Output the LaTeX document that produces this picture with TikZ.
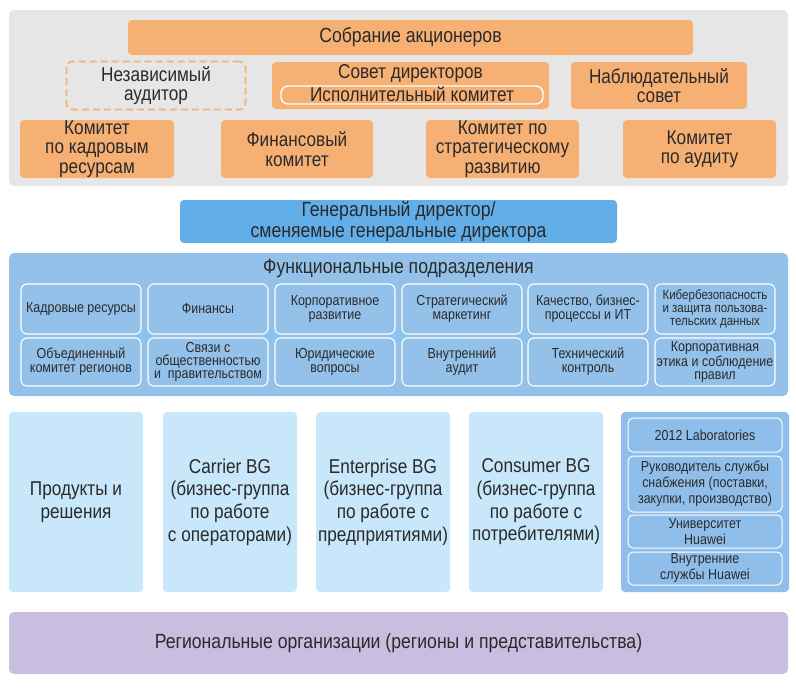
\documentclass[tikz,border=0pt]{standalone}
\usepackage{fontspec}
\setmainfont{Liberation Sans}[FakeStretch=0.86]
\definecolor{txt}{HTML}{2A2A2A}
\definecolor{greybg}{HTML}{E6E6E6}
\definecolor{orbox}{HTML}{F6B074}
\definecolor{gdblue}{HTML}{62AEE8}
\definecolor{funcblue}{HTML}{94C1EA}
\definecolor{lightblue}{HTML}{C8E7FA}
\definecolor{panelblue}{HTML}{90BEEA}
\definecolor{regbg}{HTML}{C7BEE0}
\tikzset{
  base/.style={inner sep=0pt, align=center, text=txt},
  panel/.style={base, fill=greybg, rounded corners=5pt},
  orangebox/.style={base, fill=orbox, rounded corners=4pt, font=\fontsize{20}{19.5}\selectfont},
  dashbox/.style={base, draw=orbox, dash pattern=on 7pt off 4pt, line width=1.8pt, rounded corners=6pt, font=\fontsize{20}{19.5}\selectfont},
  innerbox/.style={base, draw=white, line width=1.3pt, rounded corners=7pt},
  gdbox/.style={base, fill=gdblue, rounded corners=4pt, font=\fontsize{20.5}{20.5}\selectfont},
  funcpanel/.style={base, fill=funcblue, rounded corners=5pt},
  cellbox/.style={base, fill=funcblue, draw=white, line width=1.1pt, rounded corners=6pt, font=\fontsize{14.5}{14}\selectfont, minimum width=120pt},
  bgbox/.style={base, fill=lightblue, rounded corners=4pt, font=\fontsize{20}{22.7}\selectfont, minimum width=134pt, minimum height=180pt},
  rpanel/.style={base, fill=panelblue, rounded corners=4pt},
  rcell/.style={base, fill=panelblue, draw=white, line width=1pt, rounded corners=5pt, font=\fontsize{14.5}{16}\selectfont, minimum width=154pt},
  regbox/.style={base, fill=regbg, rounded corners=5pt, font=\fontsize{20.5}{22}\selectfont},
}
\begin{document}
\begin{tikzpicture}[x=1pt,y=-1pt]
\useasboundingbox (0,0) rectangle (796,689);
% governance panel
\node[panel, minimum width=779pt, minimum height=176pt] (gov) at (398.5,98) {};
\node[orangebox, minimum width=565pt, minimum height=35pt, font=\fontsize{20.5}{20}\selectfont] (sobr) at (410.5,37.5) {Собрание акционеров};
\node[dashbox, minimum width=179pt, minimum height=48pt] (aud) at (156,85.5) {Независимый\\аудитор};
\node[orangebox, minimum width=277pt, minimum height=47pt] (sovet) at (410.5,85.5) {};
\node[base, anchor=base, font=\fontsize{20}{20}\selectfont] (sovett) at (410.5,78) {Совет директоров};
\node[innerbox, minimum width=262pt, minimum height=18pt] (isp) at (412,95) {};
\node[base, anchor=base, font=\fontsize{20}{20}\selectfont] (ispt) at (412,101) {Исполнительный комитет};
\node[orangebox, minimum width=176pt, minimum height=47pt] (nabl) at (659,85.5) {Наблюдательный\\совет};
\node[orangebox, minimum width=154pt, minimum height=58pt] (k1) at (97,149) {Комитет\\по кадровым\\ресурсам};
\node[orangebox, minimum width=152pt, minimum height=58pt] (k2) at (297,149) {Финансовый\\комитет};
\node[orangebox, minimum width=153pt, minimum height=58pt] (k3) at (502.5,149) {Комитет по\\стратегическому\\развитию};
\node[orangebox, minimum width=153pt, minimum height=58pt] (k4) at (699.5,149) {Комитет\\по аудиту};
% CEO
\node[gdbox, minimum width=437pt, minimum height=43pt] (gd) at (398.5,221.5) {Генеральный директор/\\сменяемые генеральные директора};
% functional
\node[funcpanel, minimum width=779pt, minimum height=143pt] (func) at (398.5,324.5) {};
\node[base, font=\fontsize{20.5}{20}\selectfont] (functitle) at (398.5,269) {Функциональные подразделения};
\node[cellbox, minimum height=50pt] (f1) at (81,309) {Кадровые ресурсы};
\node[cellbox, minimum height=50pt] (f2) at (208,309) {Финансы};
\node[cellbox, minimum height=50pt] (f3) at (335,309) {Корпоративное\\развитие};
\node[cellbox, minimum height=50pt] (f4) at (462,309) {Стратегический\\маркетинг};
\node[cellbox, minimum height=50pt] (f5) at (588,309) {Качество, бизнес-\\процессы и ИТ};
\node[cellbox, minimum height=50pt, font=\fontsize{13.4}{13.3}\selectfont] (f6) at (715,309) {Кибербезопасность\\и защита пользова-\\тельских данных};
\node[cellbox, minimum height=48pt] (g1) at (81,362) {Объединенный\\комитет регионов};
\node[cellbox, minimum height=48pt, font=\fontsize{14.5}{13.3}\selectfont] (g2) at (208,362) {Связи с\\общественностью\\и\ \ правительством};
\node[cellbox, minimum height=48pt] (g3) at (335,362) {Юридические\\вопросы};
\node[cellbox, minimum height=48pt] (g4) at (462,362) {Внутренний\\аудит};
\node[cellbox, minimum height=48pt] (g5) at (588,362) {Технический\\контроль};
\node[cellbox, minimum height=48pt, font=\fontsize{14.5}{13.3}\selectfont] (g6) at (715,362) {Корпоративная\\этика и соблюдение\\правил};
% business groups
\node[bgbox] (prod) at (76,502) {Продукты и\\решения};
\node[bgbox] (carrier) at (230,502) {Carrier BG\\(бизнес-группа\\по работе\\с операторами)};
\node[bgbox] (enter) at (383,502) {Enterprise BG\\(бизнес-группа\\по работе с\\предприятиями)};
\node[bgbox] (cons) at (536,502) {Consumer BG\\(бизнес-группа\\по работе с\\потребителями)};
\node[rpanel, minimum width=168pt, minimum height=180pt] (rp) at (705,502) {};
\node[rcell, minimum height=34pt] (lab) at (705,435) {2012 Laboratories};
\node[rcell, minimum height=56pt] (ruk) at (705,484) {Руководитель службы\\снабжения (поставки,\\закупки, производство)};
\node[rcell, minimum height=33pt] (univ) at (705,531.5) {Университет\\Huawei};
\node[rcell, minimum height=33pt] (vnutr) at (705,568.5) {Внутренние\\службы Huawei};
% regional
\node[regbox, minimum width=779pt, minimum height=62pt] (reg) at (398.5,643) {Региональные организации (регионы и представительства)};
\end{tikzpicture}
\end{document}
